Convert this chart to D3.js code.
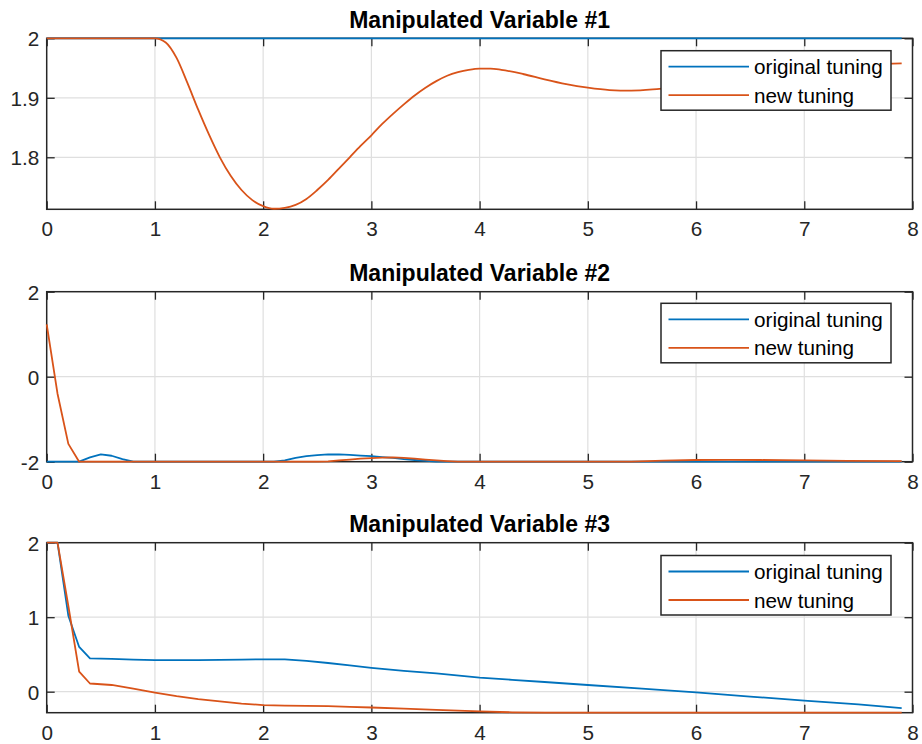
<!DOCTYPE html>
<html>
<head>
<meta charset="utf-8">
<script src="https://cdn.jsdelivr.net/npm/d3@7"></script>
<style>
  html, body { margin: 0; padding: 0; background: #fff; }
  svg { display: block; font-family: "Liberation Sans", Arial, Helvetica, sans-serif; }
</style>
</head>
<body>
<svg id="chart" width="922" height="744"></svg>
<script>
// ---------------- DATA ----------------
const seriesNames = ["original tuning", "new tuning"];
const xTicks = [0, 1, 2, 3, 4, 5, 6, 7, 8];

// Manipulated Variable #1
const mv1Time = [0, 0.5, 1.0, 1.1, 1.2, 1.3, 1.4, 1.5, 1.6, 1.7, 1.8, 1.9, 2.0, 2.1, 2.2, 2.3, 2.4, 2.5, 2.6, 2.7, 2.8, 2.9, 3.0, 3.1, 3.2, 3.3, 3.4, 3.5, 3.6, 3.7, 3.8, 3.9, 4.0, 4.1, 4.2, 4.4, 4.6, 4.8, 5.0, 5.2, 5.4, 5.6, 5.8, 6.0, 6.3, 6.6, 7.0, 7.4, 7.9];
const mv1Original = [2, 2, 2, 2, 2, 2, 2, 2, 2, 2, 2, 2, 2, 2, 2, 2, 2, 2, 2, 2, 2, 2, 2, 2, 2, 2, 2, 2, 2, 2, 2, 2, 2, 2, 2, 2, 2, 2, 2, 2, 2, 2, 2, 2, 2, 2, 2, 2, 2];
const mv1New = [2, 2, 2, 1.993, 1.967, 1.925, 1.880, 1.838, 1.800, 1.769, 1.745, 1.728, 1.718, 1.7135, 1.715, 1.720, 1.730, 1.745, 1.762, 1.781, 1.800, 1.819, 1.837, 1.856, 1.873, 1.889, 1.904, 1.917, 1.928, 1.937, 1.943, 1.947, 1.949, 1.949, 1.947, 1.940, 1.931, 1.923, 1.917, 1.913, 1.912, 1.914, 1.918, 1.923, 1.931, 1.939, 1.948, 1.954, 1.958];
const mv1YTicks = [1.8, 1.9, 2];
const mv1YTickLabels = ["1.8", "1.9", "2"];
const mv1YDomain = [1.7126, 2];

// Manipulated Variable #2
const mv2Time = [0, 0.1, 0.2, 0.3, 0.4, 0.5, 0.6, 0.7, 0.8, 1.0, 1.5, 2.0, 2.1, 2.2, 2.3, 2.4, 2.5, 2.6, 2.7, 2.8, 2.9, 3.0, 3.1, 3.2, 3.3, 3.4, 3.5, 3.6, 3.7, 3.8, 4.0, 4.5, 5.0, 5.4, 5.7, 6.0, 6.3, 6.6, 7.0, 7.4, 7.9];
const mv2Original = [-2, -2, -2, -2, -1.9, -1.83, -1.86, -1.94, -2, -2, -2, -2, -2, -1.97, -1.91, -1.87, -1.845, -1.83, -1.83, -1.84, -1.855, -1.87, -1.89, -1.91, -1.94, -1.96, -1.98, -2, -2, -2, -2, -2, -2, -2, -2, -2, -2, -2, -2, -2, -2];
const mv2New = [1.23, -0.4, -1.58, -2, -2, -2, -2, -2, -2, -2, -2, -2, -2, -2, -2, -2, -2, -1.99, -1.97, -1.95, -1.93, -1.915, -1.905, -1.9, -1.91, -1.93, -1.95, -1.97, -1.985, -2, -2, -2, -2, -2, -1.975, -1.96, -1.955, -1.96, -1.97, -1.98, -1.985];
const mv2YTicks = [-2, 0, 2];
const mv2YTickLabels = ["-2", "0", "2"];
const mv2YDomain = [-2, 2];

// Manipulated Variable #3
const mv3Time = [0, 0.1, 0.2, 0.3, 0.4, 0.6, 0.8, 1.0, 1.2, 1.4, 1.6, 1.8, 2.0, 2.2, 2.4, 2.6, 2.8, 3.0, 3.3, 3.6, 4.0, 4.3, 4.6, 5.0, 5.5, 6.0, 6.5, 7.0, 7.5, 7.9];
const mv3Original = [2, 2, 1.02, 0.6, 0.447, 0.44, 0.43, 0.425, 0.423, 0.425, 0.428, 0.431, 0.434, 0.434, 0.415, 0.385, 0.352, 0.32, 0.28, 0.245, 0.19, 0.16, 0.13, 0.09, 0.04, -0.01, -0.065, -0.12, -0.17, -0.22];
const mv3New = [2, 2, 1.15, 0.27, 0.11, 0.09, 0.04, -0.013, -0.06, -0.1, -0.13, -0.16, -0.18, -0.186, -0.19, -0.195, -0.203, -0.212, -0.228, -0.245, -0.265, -0.277, -0.282, -0.282, -0.282, -0.282, -0.282, -0.282, -0.282, -0.282];
const mv3YTicks = [0, 1, 2];
const mv3YTickLabels = ["0", "1", "2"];
const mv3YDomain = [-0.282, 2];

const titles = ["Manipulated Variable #1", "Manipulated Variable #2", "Manipulated Variable #3"];

// ---------------- LAYOUT ----------------
const colors = ["#0072BD", "#D95319"];
const axisColor = "#262626";
const gridColor = "#dfdfdf";
const left = 46.7, right = 912.5;
const panels = [
  { title: titles[0], top: 38.3, bottom: 209.3, time: mv1Time, series: [mv1Original, mv1New], yDomain: mv1YDomain, yTicks: mv1YTicks, yLabels: mv1YTickLabels, legendTop: 50.7, curve: d3.curveMonotoneX },
  { title: titles[1], top: 291.7, bottom: 461.7, time: mv2Time, series: [mv2Original, mv2New], yDomain: mv2YDomain, yTicks: mv2YTicks, yLabels: mv2YTickLabels, legendTop: 303.3, curve: d3.curveLinear },
  { title: titles[2], top: 542.7, bottom: 712.7, time: mv3Time, series: [mv3Original, mv3New], yDomain: mv3YDomain, yTicks: mv3YTicks, yLabels: mv3YTickLabels, legendTop: 555.5, curve: d3.curveLinear }
];

const svg = d3.select("#chart");
svg.append("rect").attr("width", 922).attr("height", 744).attr("fill", "#fff");

const fontSize = 20.7;
const tickLen = 8;

panels.forEach((p) => {
  const x = d3.scaleLinear().domain([0, 8]).range([left, right]);
  const y = d3.scaleLinear().domain(p.yDomain).range([p.bottom, p.top]);
  const g = svg.append("g");

  // grid
  g.append("g").selectAll("line.vg").data(xTicks.slice(1, -1)).join("line")
    .attr("x1", d => x(d)).attr("x2", d => x(d))
    .attr("y1", p.top).attr("y2", p.bottom)
    .attr("stroke", gridColor).attr("stroke-width", 1.2);
  g.append("g").selectAll("line.hg").data(p.yTicks.filter(v => v > p.yDomain[0] && v < p.yDomain[1])).join("line")
    .attr("x1", left).attr("x2", right)
    .attr("y1", d => y(d)).attr("y2", d => y(d))
    .attr("stroke", gridColor).attr("stroke-width", 1.2);

  // axes (inward ticks) using d3 axis generators
  const fmtY = (d) => p.yLabels[p.yTicks.indexOf(d)];
  const xAxisB = d3.axisBottom(x).tickValues(xTicks).tickSize(-tickLen).tickPadding(tickLen + 8).tickFormat(d3.format("d"));
  const xAxisT = d3.axisTop(x).tickValues(xTicks).tickSize(-tickLen).tickFormat("");
  const yAxisL = d3.axisLeft(y).tickValues(p.yTicks).tickSize(-tickLen).tickPadding(tickLen + 7).tickFormat(fmtY);
  const yAxisR = d3.axisRight(y).tickValues(p.yTicks).tickSize(-tickLen).tickFormat("");

  const styleAxis = (sel) => {
    sel.select(".domain").remove();
    sel.selectAll(".tick line").attr("stroke", axisColor).attr("stroke-width", 1.3);
    sel.selectAll(".tick text").attr("fill", axisColor).attr("font-size", fontSize)
      .attr("font-family", "'Liberation Sans', Arial, sans-serif");
  };
  g.append("g").attr("transform", `translate(0,${p.bottom})`).call(xAxisB).call(styleAxis)
    .selectAll(".tick text").attr("dy", null).attr("y", 27).attr("dominant-baseline", "auto");
  g.append("g").attr("transform", `translate(0,${p.top})`).call(xAxisT).call(styleAxis);
  g.append("g").attr("transform", `translate(${left},0)`).call(yAxisL).call(styleAxis)
    .selectAll(".tick text").attr("x", -7.5).attr("dy", "0.36em");
  g.append("g").attr("transform", `translate(${right},0)`).call(yAxisR).call(styleAxis);

  // box
  g.append("rect").attr("x", left).attr("y", p.top)
    .attr("width", right - left).attr("height", p.bottom - p.top)
    .attr("fill", "none").attr("stroke", axisColor).attr("stroke-width", 1.5);

  // title
  g.append("text").attr("x", (left + right) / 2).attr("y", p.top - 10.8)
    .attr("text-anchor", "middle").attr("font-weight", "bold")
    .attr("font-size", 23).attr("fill", "#000").text(p.title);

  // lines
  const line = d3.line().x((d, i) => x(p.time[i])).y(d => y(d)).curve(p.curve);
  p.series.forEach((s, k) => {
    g.append("path").datum(s).attr("d", line)
      .attr("fill", "none").attr("stroke", colors[k]).attr("stroke-width", 1.8)
      .attr("stroke-linejoin", "round");
  });

  // legend
  const lx = 661, lw = 230, lh = 59.5;
  const lg = g.append("g");
  lg.append("rect").attr("x", lx).attr("y", p.legendTop).attr("width", lw).attr("height", lh)
    .attr("fill", "#fff").attr("stroke", axisColor).attr("stroke-width", 1.5);
  seriesNames.forEach((name, k) => {
    const ry = p.legendTop + 16 + k * 28.5;
    lg.append("line").attr("x1", lx + 7.5).attr("x2", lx + 88).attr("y1", ry).attr("y2", ry)
      .attr("stroke", colors[k]).attr("stroke-width", 1.8);
    lg.append("text").attr("x", lx + 93).attr("y", ry + 7.5)
      .attr("font-size", fontSize).attr("fill", "#000").text(name);
  });
});
</script>
</body>
</html>
